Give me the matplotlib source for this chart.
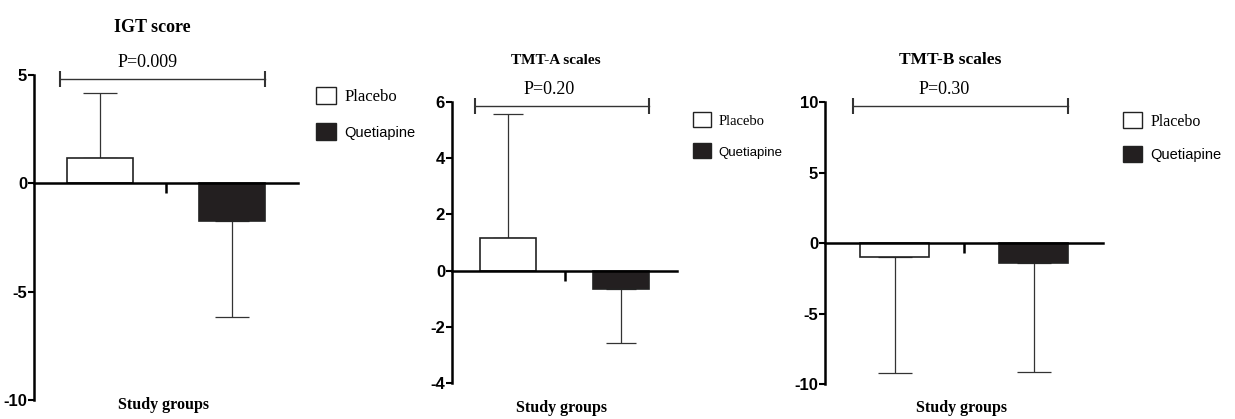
import numpy as np
import matplotlib
matplotlib.use("Agg")
import matplotlib.pyplot as plt
from matplotlib.patches import Patch

plt.rcParams["axes.unicode_minus"] = False

# data
titles = ["IGT score", "TMT-A scales", "TMT-B scales"]
p_values = ["P=0.009", "P=0.20", "P=0.30"]
groups = ["Placebo", "Quetiapine"]
igt_means = [1.16, -1.76]
igt_err = [3.01, 4.40]
tmta_means = [1.17, -0.64]
tmta_err = [4.40, 1.95]
tmtb_means = [-1.0, -1.4]
tmtb_err = [8.2, 7.75]
igt_ticks = [5, 0, -5, -10]
tmta_ticks = [6, 4, 2, 0, -2, -4]
tmtb_ticks = [10, 5, 0, -5, -10]

W, H = 1235, 419
fig = plt.figure(figsize=(W / 100, H / 100), dpi=100)

sans = ["Liberation Sans Narrow", "Liberation Sans", "DejaVu Sans"]
serif = ["Liberation Serif", "DejaVu Serif"]
fill_colors = ["white", "#231f20"]


def fx(px):
    return px / W


def fy(py):
    return 1 - py / H


panels = [
    dict(box=(34, 75, 298, 400), ylim=(-10, 5), means=igt_means, errs=igt_err,
         ticks=igt_ticks, br=4.81, cap=12, title_xy=(152, 32), tsize=13,
         sg_xy=(163, 405), leg_xy=(316, 87), psize=12, qsize=10.5, hs=1.2,
         lsp=1.05),
    dict(box=(452, 102, 677, 383), ylim=(-4, 6), means=tmta_means, errs=tmta_err,
         ticks=tmta_ticks, br=5.85, cap=11, title_xy=(556, 64), tsize=11,
         sg_xy=(562, 408), leg_xy=(693, 112), psize=10.5, qsize=9.5, hs=1.25,
         lsp=1.05),
    dict(box=(825, 102, 1103, 384), ylim=(-10, 10), means=tmtb_means, errs=tmtb_err,
         ticks=tmtb_ticks, br=9.7, cap=12, title_xy=(950, 64), tsize=12.5,
         sg_xy=(962, 408), leg_xy=(1123, 112), psize=11.5, qsize=10.5, hs=1.2,
         lsp=1.0),
]

for i, p in enumerate(panels):
    x0, y0, x1, y1 = p["box"]
    ax = fig.add_axes([fx(x0), fy(y1), fx(x1 - x0), (y1 - y0) / H])
    x = np.arange(len(groups))
    means = np.array(p["means"])
    errs = np.array(p["errs"])
    lower = np.where(means < 0, errs, 0)
    upper = np.where(means > 0, errs, 0)
    ax.errorbar(x, means, yerr=[lower, upper], fmt="none", ecolor="#333333",
                elinewidth=0.9, capsize=p["cap"], capthick=0.9, zorder=1)
    ax.bar(x, means, width=0.5, color=fill_colors, edgecolor="#222222",
           linewidth=1.2, zorder=2)

    ax.set_xlim(-0.5, 1.5)
    ax.set_ylim(*p["ylim"])
    ax.set_yticks(p["ticks"])
    ax.set_yticklabels([str(t) for t in p["ticks"]], family=sans,
                       fontweight="bold", fontsize=12)
    ax.set_xticks([0.5])
    ax.set_xticklabels([""])
    ax.tick_params(axis="y", direction="out", length=4, width=1.5, pad=1)
    ax.tick_params(axis="x", direction="out", length=7, width=1.8)
    for s in ["top", "right"]:
        ax.spines[s].set_visible(False)
    ax.spines["bottom"].set_position(("data", 0))
    ax.spines["left"].set_linewidth(1.8)
    ax.spines["bottom"].set_linewidth(1.8)
    ax.patch.set_alpha(0)

    # significance bracket
    ax.plot([-0.30, 1.25], [p["br"], p["br"]], color="#333333", lw=1.0,
            marker="|", markersize=12, markeredgewidth=1.5, clip_on=False)
    ax.annotate(p_values[i], xy=(0.36, p["br"]), xytext=(0, 6),
                textcoords="offset points", ha="center", va="bottom",
                family=serif, fontsize=13, annotation_clip=False)

    tx, ty = p["title_xy"]
    fig.text(fx(tx), fy(ty), titles[i], ha="center", va="baseline",
             family=serif, fontweight="bold", fontsize=p["tsize"])
    sx, sy = p["sg_xy"]
    fig.text(fx(sx), fy(sy), "Study groups", ha="center", va="center",
             family=serif, fontweight="bold", fontsize=11.5)

    handles = [Patch(facecolor=c, edgecolor="#222222", linewidth=1.0)
               for c in fill_colors]
    lx, ly = p["leg_xy"]
    leg = ax.legend(handles, groups, loc="upper left",
                    bbox_to_anchor=(fx(lx), fy(ly)),
                    bbox_transform=fig.transFigure, frameon=False,
                    borderpad=0, borderaxespad=0, handlelength=p["hs"],
                    handleheight=p["hs"], handletextpad=0.5,
                    labelspacing=p["lsp"], fontsize=p["psize"])
    texts = leg.get_texts()
    texts[0].set_family(serif)
    texts[1].set_family(sans)
    texts[1].set_fontsize(p["qsize"])

fig.savefig("out.png", dpi=100)
